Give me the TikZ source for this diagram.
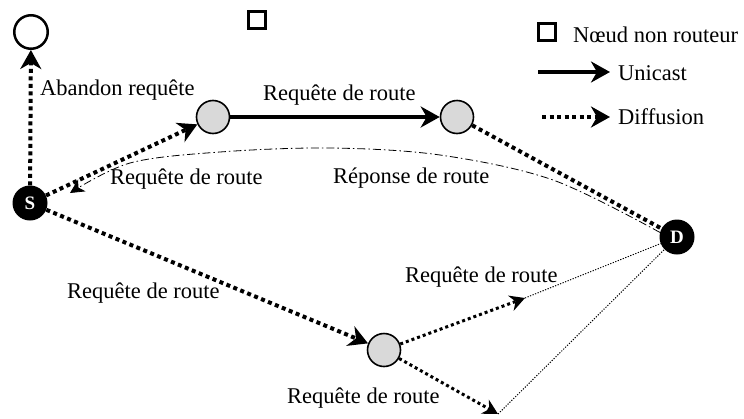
\documentclass[tikz,border=0pt]{standalone}
\usepackage{fontspec}
\setmainfont{Liberation Serif}
\usetikzlibrary{arrows.meta}
\definecolor{nodegray}{RGB}{217,217,217}
\begin{document}
\begin{tikzpicture}[x=1pt,y=-1pt,
  lbl/.style={font=\fontsize{22.5}{27}\selectfont, inner sep=0pt, anchor=base west},
  graynode/.style={circle, draw, line width=1.6pt, fill=nodegray, minimum size=33pt, inner sep=0pt},
  blacknode/.style={circle, fill=black, text=white, minimum size=35pt, inner sep=0pt, font=\fontsize{19}{20}\selectfont\bfseries},
  whitenode/.style={circle, draw, line width=2.5pt, minimum size=33.5pt, inner sep=0pt},
  sqbox/.style={draw, line width=2.8pt, minimum size=17pt, inner sep=0pt},
  bigtip/.style={-{Stealth[length=19pt,width=21pt,inset=6pt]}},
  smalltip/.style={-{Stealth[length=15pt,width=16pt,inset=5pt]}},
  diffusion/.style={line width=4pt, dash pattern=on 4pt off 3.5pt},
  diffthin/.style={line width=3pt, dash pattern=on 3pt off 3pt},
  unicast/.style={line width=4pt},
  faint/.style={line width=1pt, dash pattern=on 1.2pt off 1.5pt},
  reply/.style={line width=0.8pt, dash pattern=on 8pt off 3pt on 1.5pt off 3pt, -{Stealth[length=14pt,width=14pt,inset=4pt]}},
]
\useasboundingbox (0,0) rectangle (744,418);

% nodes
\node[whitenode] (top) at (31,32) {};
\node[sqbox] (sq) at (257,20) {};
\node[blacknode] (S) at (30,203) {S};
\node[graynode] (g1) at (213,117) {};
\node[graynode] (g2) at (457,117) {};
\node[blacknode] (D) at (677,237) {D};
\node[graynode] (g3) at (384,350) {};
\coordinate (t1) at (525,298);
\coordinate (t2) at (498,414);
\coordinate (rEnd) at (70,193);

% connectors
\draw[faint] (t1) -- (D);
\draw[faint] (t2) -- (D);
\draw[diffusion,bigtip] (S) -- (top);
\draw[diffusion,bigtip] (S) -- (g1);
\draw[unicast,bigtip] (g1) -- (g2);
\draw[diffusion] (g2) -- (D);
\draw[diffusion,bigtip] (S) -- (g3);
\draw[diffthin,smalltip] (g3) -- (t1);
\draw[diffthin,smalltip] (g3) -- (t2);
\draw[reply] plot[smooth,tension=0.55] coordinates {(D.165) (553,180) (440,155) (330,148) (220,152) (130,163) (rEnd)};

% labels
\node[lbl] (l1) at (40,95) {Abandon requête};
\node[lbl] (l2) at (263,100) {Requête de route};
\node[lbl] (l3) at (110,184) {Requête de route};
\node[lbl] (l4) at (333,183) {Réponse de route};
\node[lbl] (l5) at (405,282) {Requête de route};
\node[lbl] (l6) at (67,298) {Requête de route};
\node[lbl] (l7) at (287,403) {Requête de route};

% legend
\node[sqbox] (lsq) at (547,32) {};
\node[lbl] (lsqt) at (573,42) {Nœud non routeur};
\coordinate (u1) at (538,72);
\coordinate (u2) at (610,72);
\draw[unicast,bigtip] (u1) -- (u2);
\node[lbl] (lu) at (618,80) {Unicast};
\coordinate (d1) at (542,117);
\coordinate (d2) at (610,117);
\draw[diffusion,bigtip] (d1) -- (d2);
\node[lbl] (ld) at (618,124) {Diffusion};
\end{tikzpicture}
\end{document}
